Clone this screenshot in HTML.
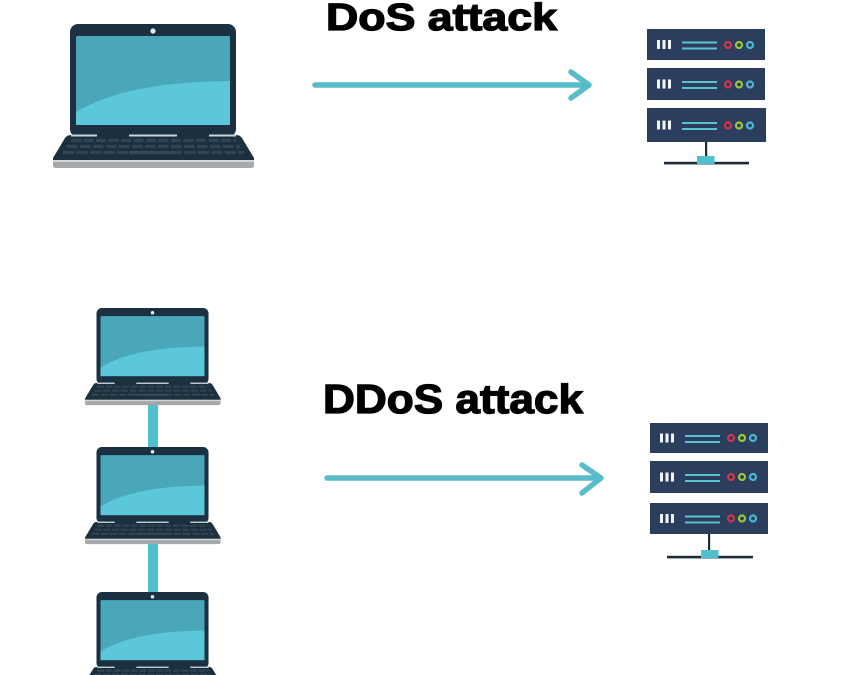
<!DOCTYPE html>
<html>
<head>
<meta charset="utf-8">
<style>
  html,body{margin:0;padding:0;background:#fff;}
  body{width:850px;height:675px;overflow:hidden;}
  svg{display:block;}
</style>
</head>
<body>
<svg width="850" height="675" viewBox="0 0 850 675" xmlns="http://www.w3.org/2000/svg">
  <defs>
    <symbol id="lap" viewBox="0 0 201 144">
      <rect x="17" y="0" width="166" height="113" rx="8" fill="#1b3142"/>
      <rect x="23" y="12" width="154" height="89" rx="1.5" fill="#4aa6b9"/>
      <path d="M23,88 C60,66 110,58 177,57 L177,101 L23,101 Z" fill="#5cc7d8"/>
      <circle cx="100" cy="7" r="2.6" fill="#e6eef0"/>
      <path d="M18,111 L183,111 Q187,111 189,114 L201,134 L201,137 L0,137 L0,134 L12,114 Q14,111 18,111 Z" fill="#1b2f3c"/>
      <line x1="18" y1="116.5" x2="183" y2="116.5" stroke="#2f4555" stroke-width="3.2" stroke-dasharray="10 2.5"/>
      <line x1="14" y1="122.5" x2="187" y2="122.5" stroke="#2f4555" stroke-width="3.2" stroke-dasharray="10.5 2.5"/>
      <line x1="10" y1="128.5" x2="191" y2="128.5" stroke="#2f4555" stroke-width="3.2" stroke-dasharray="11 2.5"/>
      <rect x="76" y="127" width="48" height="3.2" fill="#34495a"/>
      <rect x="18" y="110.5" width="26" height="2" fill="#c9d3d8"/>
      <rect x="76" y="110.5" width="48" height="2" fill="#c9d3d8"/>
      <rect x="156" y="110.5" width="27" height="2" fill="#c9d3d8"/>
      <path d="M0,136 L201,136 L201,141 Q201,144 198,144 L3,144 Q0,144 0,141 Z" fill="#a5a8aa"/>
      <rect x="0" y="136" width="201" height="2" fill="#d2d4d5"/>
    </symbol>
  </defs>

  <!-- DoS section -->
  <use href="#lap" x="53" y="24" width="201" height="144"/>

  <text x="326" y="30" font-family="Liberation Sans, sans-serif" font-weight="bold" font-size="38" fill="#000" stroke="#000" stroke-width="1.3" textLength="231" lengthAdjust="spacingAndGlyphs">DoS attack</text>

  <g stroke="#58bccb" stroke-width="5.5" stroke-linecap="round" stroke-linejoin="round" fill="none">
    <line x1="315" y1="85" x2="587" y2="85"/>
    <polyline points="571,72 589,85 571,98"/>
  </g>

  <!-- top server -->
  <g>
    <rect x="647" y="29" width="118" height="31" fill="#2c3e5e"/>
    <rect x="647" y="68" width="118" height="32" fill="#2c3e5e"/>
    <rect x="647" y="108" width="119" height="34" fill="#2c3e5e"/>
    <g fill="#f2f4f7">
      <rect x="657" y="40" width="3" height="9"/><rect x="662.5" y="40" width="3" height="9"/><rect x="668" y="40" width="3" height="9"/>
      <rect x="657" y="79.5" width="3" height="9"/><rect x="662.5" y="79.5" width="3" height="9"/><rect x="668" y="79.5" width="3" height="9"/>
      <rect x="657" y="120.5" width="3" height="9"/><rect x="662.5" y="120.5" width="3" height="9"/><rect x="668" y="120.5" width="3" height="9"/>
    </g>
    <g fill="#5bc2d2">
      <rect x="682" y="41.5" width="35" height="2"/><rect x="682" y="47.5" width="35" height="2"/>
      <rect x="682" y="81" width="35" height="2"/><rect x="682" y="87" width="35" height="2"/>
      <rect x="682" y="122" width="35" height="2"/><rect x="682" y="128" width="35" height="2"/>
    </g>
    <g stroke-width="2.2" fill="#2c3e5e">
      <circle cx="728" cy="45" r="3" stroke="#d8334a"/><circle cx="739" cy="45" r="3" stroke="#9cc83c"/><circle cx="750" cy="45" r="3" stroke="#4cb8d8"/>
      <circle cx="728" cy="84.5" r="3" stroke="#d8334a"/><circle cx="739" cy="84.5" r="3" stroke="#9cc83c"/><circle cx="750" cy="84.5" r="3" stroke="#4cb8d8"/>
      <circle cx="728" cy="125.5" r="3" stroke="#d8334a"/><circle cx="739" cy="125.5" r="3" stroke="#9cc83c"/><circle cx="750" cy="125.5" r="3" stroke="#4cb8d8"/>
    </g>
    <rect x="705" y="142" width="2.2" height="16" fill="#1d2a38"/>
    <rect x="664" y="161.8" width="85" height="2.6" fill="#1d2a38"/>
    <rect x="697" y="156" width="17.5" height="8" fill="#4fc0cf"/>
  </g>

  <!-- DDoS section -->
  <rect x="148" y="403" width="10" height="46" fill="#4fbfcc"/>
  <rect x="148" y="542" width="10" height="52" fill="#4fbfcc"/>
  <use href="#lap" x="85" y="308" width="135.7" height="97.2"/>
  <use href="#lap" x="85" y="447" width="135.7" height="97.2"/>
  <use href="#lap" x="85" y="592" width="135.7" height="97.2"/>

  <text x="323" y="413" font-family="Liberation Sans, sans-serif" font-weight="bold" font-size="41" fill="#000" stroke="#000" stroke-width="1.3" textLength="260" lengthAdjust="spacingAndGlyphs">DDoS attack</text>

  <g stroke="#58bccb" stroke-width="5.5" stroke-linecap="round" stroke-linejoin="round" fill="none">
    <line x1="327" y1="478" x2="599" y2="478"/>
    <polyline points="582,465 601,478 582,493"/>
  </g>

  <!-- bottom server -->
  <g>
    <rect x="650" y="423" width="118" height="30" fill="#2c3e5e"/>
    <rect x="650" y="461" width="118" height="32" fill="#2c3e5e"/>
    <rect x="650" y="503" width="118" height="31" fill="#2c3e5e"/>
    <g fill="#f2f4f7">
      <rect x="660" y="433.5" width="3" height="9"/><rect x="665.5" y="433.5" width="3" height="9"/><rect x="671" y="433.5" width="3" height="9"/>
      <rect x="660" y="472.5" width="3" height="9"/><rect x="665.5" y="472.5" width="3" height="9"/><rect x="671" y="472.5" width="3" height="9"/>
      <rect x="660" y="514" width="3" height="9"/><rect x="665.5" y="514" width="3" height="9"/><rect x="671" y="514" width="3" height="9"/>
    </g>
    <g fill="#5bc2d2">
      <rect x="685" y="435" width="35" height="2"/><rect x="685" y="441" width="35" height="2"/>
      <rect x="685" y="474" width="35" height="2"/><rect x="685" y="480" width="35" height="2"/>
      <rect x="685" y="515.5" width="35" height="2"/><rect x="685" y="521.5" width="35" height="2"/>
    </g>
    <g stroke-width="2.2" fill="#2c3e5e">
      <circle cx="731" cy="438" r="3" stroke="#d8334a"/><circle cx="742" cy="438" r="3" stroke="#9cc83c"/><circle cx="753" cy="438" r="3" stroke="#4cb8d8"/>
      <circle cx="731" cy="477" r="3" stroke="#d8334a"/><circle cx="742" cy="477" r="3" stroke="#9cc83c"/><circle cx="753" cy="477" r="3" stroke="#4cb8d8"/>
      <circle cx="731" cy="518.5" r="3" stroke="#d8334a"/><circle cx="742" cy="518.5" r="3" stroke="#9cc83c"/><circle cx="753" cy="518.5" r="3" stroke="#4cb8d8"/>
    </g>
    <rect x="708" y="534" width="2.2" height="17" fill="#1d2a38"/>
    <rect x="667" y="555.8" width="86" height="2.6" fill="#1d2a38"/>
    <rect x="701" y="550" width="17.5" height="8" fill="#4fc0cf"/>
  </g>
</svg>
</body>
</html>
